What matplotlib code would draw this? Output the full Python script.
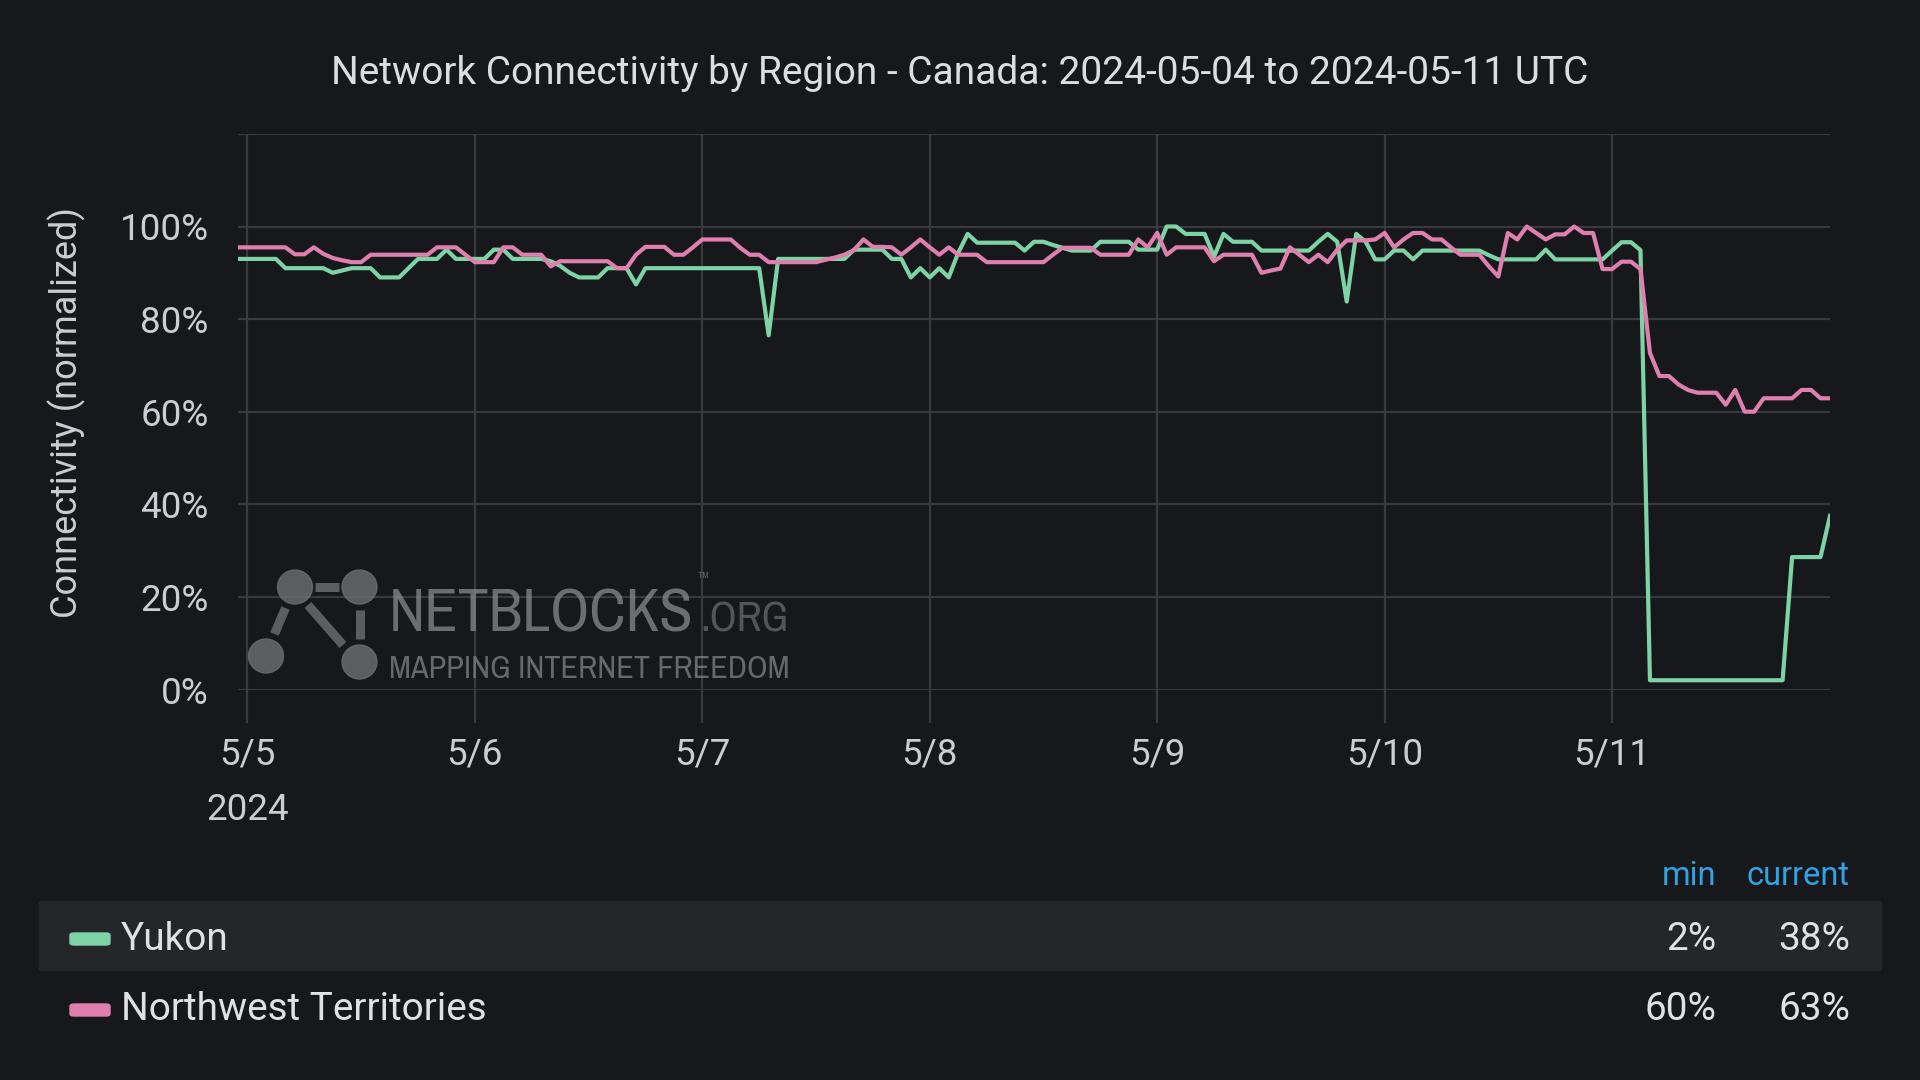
import numpy as np
import pandas as pd
import matplotlib
matplotlib.use('Agg')
import matplotlib.pyplot as plt
import matplotlib.dates as mdates
from matplotlib.patches import Rectangle, FancyBboxPatch, Ellipse
from matplotlib.lines import Line2D
from matplotlib import font_manager

plt.rcParams['font.family'] = ['Roboto', 'DejaVu Sans']

# ---- data (hourly, 2024-05-04 23:00 .. 2024-05-11 23:00 UTC) ----
title = "Network Connectivity by Region - Canada: 2024-05-04 to 2024-05-11 UTC"
regions = ['Yukon', 'Northwest Territories']
times = pd.date_range('2024-05-04 23:00', periods=169, freq='h')

yukon = [
    93,
    93, 93, 93, 93, 91, 91, 91, 91, 91, 90, 90.5, 91, 91, 91, 89, 89, 89, 91, 93, 93, 93, 95, 93, 93,
    93, 93, 95, 95, 93, 93, 93, 93, 92.5, 91.5, 90, 89, 89, 89, 91, 91, 91, 87.5, 91, 91, 91, 91, 91, 91,
    91, 91, 91, 91, 91, 91, 91, 76.5, 93, 93, 93, 93, 93, 93, 93, 93, 95, 95, 95, 95, 93, 93, 89, 91,
    89, 91, 89, 94.3, 98.4, 96.5, 96.5, 96.5, 96.5, 96.5, 94.8, 96.7, 96.7, 96, 95.4, 94.8, 94.8, 94.8, 96.7, 96.7, 96.7, 96.7, 95, 95,
    95, 100, 100, 98.4, 98.4, 98.4, 93.5, 98.4, 96.7, 96.7, 96.7, 94.8, 94.8, 94.8, 94.8, 94.8, 94.8, 96.7, 98.4, 96.7, 83.8, 98.4, 96.7, 92.9,
    92.9, 94.8, 94.8, 92.9, 94.8, 94.8, 94.8, 94.8, 94.8, 94.8, 94.8, 93.8, 92.9, 92.9, 92.9, 92.9, 92.9, 95, 92.9, 92.9, 92.9, 92.9, 92.9, 92.9,
    94.8, 96.6, 96.6, 94.9, 2, 2, 2, 2, 2, 2, 2, 2, 2, 2, 2, 2, 2, 2, 2, 28.6, 28.6, 28.6, 28.6, 37.5,
]

nwt = [
    95.5,
    95.5, 95.5, 95.5, 95.5, 95.5, 94, 94, 95.5, 94.1, 93.2, 92.7, 92.3, 92.3, 93.9, 93.9, 93.9, 93.9, 93.9, 93.9, 93.9, 95.5, 95.5, 95.5, 93.9,
    92.3, 92.3, 92.3, 95.5, 95.5, 93.9, 93.9, 93.9, 91.4, 92.5, 92.5, 92.5, 92.5, 92.5, 92.5, 91, 91, 93.9, 95.6, 95.6, 95.6, 93.9, 93.9, 95.5,
    97.2, 97.2, 97.2, 97.2, 95.4, 93.9, 93.9, 92.3, 92.3, 92.3, 92.3, 92.3, 92.3, 92.8, 93.3, 93.9, 94.9, 97.2, 95.6, 95.6, 95.5, 93.9, 95.5, 97.2,
    95.5, 93.9, 95.5, 93.9, 93.9, 93.9, 92.3, 92.3, 92.3, 92.3, 92.3, 92.3, 92.3, 93.9, 95.4, 95.4, 95.4, 95.4, 93.9, 93.9, 93.9, 93.9, 97.2, 95.5,
    98.6, 93.9, 95.5, 95.5, 95.5, 95.5, 92.5, 93.9, 93.9, 93.9, 93.9, 90, 90.5, 90.9, 95.5, 93.9, 92.3, 93.9, 92.3, 95, 97, 97, 97, 97.2,
    98.6, 95.5, 97.2, 98.6, 98.6, 97.2, 97.2, 95.5, 93.9, 93.9, 93.9, 91.4, 89.2, 98.6, 97.2, 100, 98.6, 97.2, 98.3, 98.3, 100, 98.6, 98.6, 90.8,
    90.8, 92.4, 92.4, 90.8, 72.7, 67.7, 67.7, 65.9, 64.7, 64.1, 64.1, 64.1, 61.5, 64.7, 60, 60, 62.9, 62.9, 62.9, 62.9, 64.7, 64.7, 62.9, 62.9,
]

colors = ['#7dd3a5', '#de7fae']
bg = '#17181b'
grid_c = '#393a3d'
text_c = '#c9ced4'


def fx(px):
    return px / 1920


def fy(py):
    return 1 - py / 1080


fig = plt.figure(figsize=(19.2, 10.8), dpi=100, facecolor=bg)
ax = fig.add_axes([fx(238), fy(689.5), fx(1830) - fx(238), fy(133.9) - fy(689.5)])
ax.set_facecolor(bg)

for vals, c in zip([yukon, nwt], colors):
    ax.plot(times, vals, color=c, lw=3, zorder=3)

ax.set_xlim(times[0], times[-1])
ax.set_ylim(0, 120)
ax.set_yticks([0, 20, 40, 60, 80, 100, 120])
ax.set_yticklabels(['0%', '20%', '40%', '60%', '80%', '100%', ''])

ax.xaxis.set_major_locator(mdates.DayLocator())


def day_fmt(x, pos=None):
    d = mdates.num2date(x)
    s = f'{d.month}/{d.day}'
    if pos == 0:
        s += '\n2024'
    return s


ax.xaxis.set_major_formatter(plt.FuncFormatter(day_fmt))
ax.grid(True, color=grid_c, lw=1.6, zorder=0)
for sp in ax.spines.values():
    sp.set_visible(False)
ax.tick_params(axis='x', length=24, width=1.6, color=grid_c, pad=10,
               labelsize=26.5, labelcolor=text_c)
ax.tick_params(axis='y', length=0, pad=21, labelsize=26.5, labelcolor=text_c)
for lab in ax.get_xticklabels():
    lab.set_linespacing(1.7)

fig.text(fx(67), fy(412), 'Connectivity (normalized)', rotation=90,
         ha='center', va='center', fontsize=26, color=text_c)
fig.text(0.5, fy(73), title, ha='center', va='center', fontsize=28, color='#dcdde0')

# ---- watermark ----
wm = '#6e6f72'
for cx, cy in [(266, 656), (295, 587), (359.5, 587), (359.5, 662)]:
    fig.add_artist(Ellipse((fx(cx), fy(cy)), 35 / 1920, 34 / 1080,
                           transform=fig.transFigure, color=wm, alpha=0.8, zorder=1))
for (x0, y0), (x1, y1) in [((315, 587), (339, 587)), ((285.5, 608), (274.5, 634)),
                           ((308, 605), (343, 645)), ((359.5, 610), (359.5, 639))]:
    fig.add_artist(Line2D([fx(x0), fx(x1)], [fy(y0), fy(y1)], transform=fig.transFigure,
                          color=wm, lw=6.5, alpha=0.8, solid_capstyle='butt', zorder=1))

narrow = [f.name for f in font_manager.fontManager.ttflist
          if 'Narrow' in f.name or 'Condensed' in f.name]
wm_font = [narrow[0], 'DejaVu Sans'] if narrow else ['DejaVu Sans']

renderer = fig.canvas.get_renderer()


def fit_width(t, width_px):
    w = t.get_window_extent(renderer).width
    t.set_fontsize(t.get_fontsize() * width_px / w)


t1 = fig.text(fx(389), fy(632), 'NETBLOCKS', family=wm_font, fontweight='bold', fontsize=40,
              color='#8a8b8e', alpha=0.75, ha='left', va='baseline', zorder=1)
fit_width(t1, 305)
t2 = fig.text(fx(700), fy(632), '.ORG', family=wm_font, fontweight='bold', fontsize=30,
              color='#606164', alpha=0.85, ha='left', va='baseline', zorder=1)
fit_width(t2, 88)
fig.text(fx(697), fy(582), '™', family=wm_font, fontsize=11,
         color='#707174', alpha=0.85, ha='left', va='baseline', zorder=1)
t3 = fig.text(fx(389), fy(678), 'MAPPING INTERNET FREEDOM', family=wm_font, fontsize=20,
              color='#8a8b8e', alpha=0.7, ha='left', va='baseline', zorder=1)
fit_width(t3, 401)

# ---- legend table ----
fig.add_artist(Rectangle((fx(39), fy(970)), fx(1881) - fx(39), fy(901) - fy(970),
                         transform=fig.transFigure, color='#252629', zorder=0))
fig.text(fx(1716), fy(876), 'min', ha='right', va='center', fontsize=23.5, color='#33a2e5')
fig.text(fx(1850), fy(876), 'current', ha='right', va='center', fontsize=23.5, color='#33a2e5')

for i, (name, vals, c) in enumerate(zip(regions, [yukon, nwt], colors)):
    yc = 939 + 71 * i
    fig.add_artist(FancyBboxPatch((fx(70), fy(yc + 6)), fx(40), fy(yc - 6) - fy(yc + 6),
                                  boxstyle='round,pad=0,rounding_size=0.002',
                                  transform=fig.transFigure, color=c, zorder=2))
    fig.text(fx(121), fy(yc), name, ha='left', va='center', fontsize=27.9, color='#e0e1e4')
    fig.text(fx(1716), fy(yc), f'{min(vals):.0f}%', ha='right', va='center',
             fontsize=27.9, color='#e0e1e4')
    fig.text(fx(1850), fy(yc), f'{vals[-1]:.0f}%', ha='right', va='center',
             fontsize=27.9, color='#e0e1e4')

fig.savefig('out.png', dpi=100, facecolor=bg)
